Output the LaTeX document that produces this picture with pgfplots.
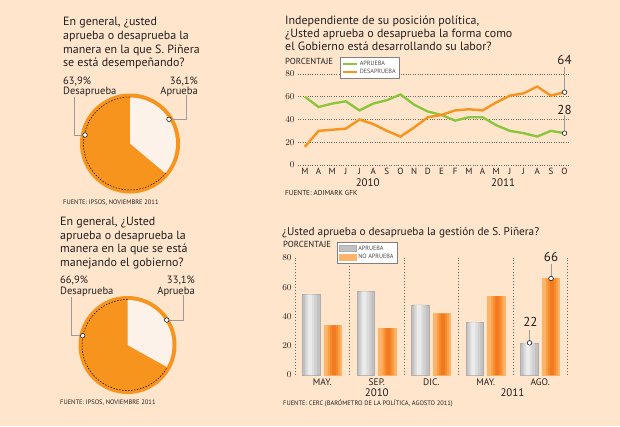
\documentclass[border=0pt]{standalone}
\usepackage{pgfplots}
\usepackage{pgfplotstable}
\pgfplotsset{compat=1.18}
\usepackage{fontspec}
\setmainfont{PT Sans}
\definecolor{bg}{HTML}{FFE5CC}
\definecolor{org}{HTML}{F7941D}
\definecolor{grn}{HTML}{8CC63F}
\definecolor{txt}{HTML}{231F20}
\definecolor{lead}{HTML}{9A9A9A}
\definecolor{slice}{HTML}{FDF2EA}
\definecolor{or1}{HTML}{FCB46A}
\definecolor{or2}{HTML}{F9A045}
\definecolor{or3}{HTML}{F68B2E}
\definecolor{or4}{HTML}{F37A20}
\definecolor{gy1}{HTML}{C2C2C2}
\definecolor{gy2}{HTML}{D0D0D0}
\definecolor{gy3}{HTML}{DDDDDD}
\definecolor{gy4}{HTML}{EBEBEB}
\newcommand\tl[4]{\node[anchor=base west, inner sep=0, font=\fontsize{#1}{#1}\selectfont] at (#2,-#3) {#4};}
\newcommand\tr[4]{\node[anchor=base east, inner sep=0, font=\fontsize{#1}{#1}\selectfont] at (#2,-#3) {#4};}
\pgfplotstableread{
x y
0 55
1 57
2 48
3 36
4 22
}\aprueba
\pgfplotstableread{
x y
0 34
1 32
2 42
3 54
4 66
}\noaprueba
\begin{document}
\begin{tikzpicture}[x=1bp,y=1bp]
\fill[bg] (0,0) rectangle (620,-426);
\begin{scope}[color=txt]
% ---------- pie 1 texts
\tl{12}{63}{25}{En general, ¿usted}
\tl{12}{63}{39}{aprueba o desaprueba la}
\tl{12}{63}{53}{manera en la que S. Piñera}
\tl{12}{63}{66.5}{se está desempeñando?}
\tl{10.6}{63}{84}{63,9\%}
\tl{10.6}{63}{94}{Desaprueba}
\tr{10.6}{198}{84}{36,1\%}
\tr{10.6}{198}{94}{Aprueba}
\tl{6.5}{63}{204}{FUENTE: IPSOS, NOVIEMBRE 2011}
% ---------- pie 2 texts
\tl{12}{60}{225.7}{En general, ¿Usted}
\tl{12}{60}{239.3}{aprueba o desaprueba la}
\tl{12}{60}{252.7}{manera en la que se está}
\tl{12}{60}{266}{manejando el gobierno?}
\tl{10.6}{60}{283.5}{66,9\%}
\tl{10.6}{60}{294}{Desaprueba}
\tr{10.6}{195}{283.5}{33,1\%}
\tr{10.6}{195}{294}{Aprueba}
\tl{6.5}{60}{404.5}{FUENTE: IPSOS, NOVIEMBRE 2011}
% ---------- line chart texts
\tl{12}{285}{24}{Independiente de su posición política,}
\tl{12}{285}{37.5}{¿Usted aprueba o desaprueba la forma como}
\tl{12}{285}{50.5}{el Gobierno está desarrollando su labor?}
\tl{8.8}{285}{64.5}{PORCENTAJE}
\tl{7.2}{285}{195.5}{FUENTE: ADIMARK GFK}
% ---------- bar chart texts
\tl{11.3}{282}{235.5}{¿Usted aprueba o desaprueba la gestión de S. Piñera?}
\tl{8.8}{283}{247.5}{PORCENTAJE}
\tl{6.5}{283}{405.5}{FUENTE: CERC (BARÓMETRO DE LA POLÍTICA, AGOSTO 2011)}
\end{scope}

% ---------- pie 1
\begin{axis}[at={(130bp,-143.5bp)}, anchor=center, x=1bp, y=1bp, scale only axis,
  xmin=-60, xmax=60, ymin=-60, ymax=60, hide axis, clip=false]
\pgfmathsetmacro\apr{36.1}
\pgfmathsetmacro\ang{90-3.6*\apr}
\fill[org] (axis cs:0,0) circle[radius=50bp];
\fill[slice] (axis cs:0,0) -- ++(90:46bp) arc[start angle=90, end angle=\ang, radius=46bp] -- cycle;
\draw[black, line width=0.5pt, dash pattern=on 1.5pt off 1.5pt] (axis cs:0,0) ++(90:46.5bp) arc[start angle=90, end angle=360+\ang, radius=46.5bp];
\draw[lead, line width=1pt] (axis cs:39,24.2) -- (axis cs:56,24.2) -- (axis cs:56,48.5);
\draw[lead, line width=1pt] (axis cs:-45,8.5) -- (axis cs:-56,8.5) -- (axis cs:-56,46.5);
\addplot[only marks, mark=*, mark size=2.3pt, mark options={fill=white, draw=txt, line width=0.6pt}] coordinates {(39,24.2) (-45,8.5)};
\end{axis}

% ---------- pie 2
\begin{axis}[at={(127.5bp,-345bp)}, anchor=center, x=1bp, y=1bp, scale only axis,
  xmin=-60, xmax=60, ymin=-60, ymax=60, hide axis, clip=false]
\pgfmathsetmacro\apr{33.1}
\pgfmathsetmacro\ang{90-3.6*\apr}
\fill[org] (axis cs:0,0) circle[radius=49bp];
\fill[slice] (axis cs:0,0) -- ++(90:45bp) arc[start angle=90, end angle=\ang, radius=45bp] -- cycle;
\draw[black, line width=0.5pt, dash pattern=on 1.5pt off 1.5pt] (axis cs:0,0) ++(90:45.5bp) arc[start angle=90, end angle=360+\ang, radius=45.5bp];
\draw[lead, line width=1pt] (axis cs:39.2,25) -- (axis cs:55.5,25) -- (axis cs:55.5,50);
\draw[lead, line width=1pt] (axis cs:-44.8,9.3) -- (axis cs:-55.8,9.3) -- (axis cs:-55.8,48.3);
\addplot[only marks, mark=*, mark size=2.3pt, mark options={fill=white, draw=txt, line width=0.6pt}] coordinates {(39.2,25) (-44.8,9.3)};
\end{axis}

% ---------- line chart
\begin{axis}[at={(298bp,-165bp)}, anchor=south west, scale only axis, width=272bp, height=91bp,
  xmin=-0.5, xmax=19.4, ymin=0, ymax=80, ytick={0,20,40,60,80},
  xtick={0,...,19}, xticklabels={M,A,M,J,J,A,S,O,N,D,E,F,M,A,M,J,J,A,S,O},
  axis line style={draw=none}, major tick length=0pt,
  ymajorgrids, grid style={dotted, black!60, line width=0.7pt},
  tick label style={font=\fontsize{9}{9}\selectfont, text=txt},
  clip=false,
  legend style={at={(0.154,1.187)}, anchor=north west, draw=black!50, fill=white,
    font=\fontsize{6.2}{7}\selectfont, text=black!70, inner sep=1.5pt, row sep=-1.5pt},
  legend cell align=left,
  legend image code/.code={\draw[#1, line width=2.2pt] (0bp,0bp) -- (14bp,0bp);}]
\addplot[grn, line width=2.4pt] coordinates {(0,60) (1,51) (2,54) (3,56) (4,48) (5,54) (6,57) (7,62) (8,53) (9,47) (10,44) (11,39) (12,42) (13,42) (14,35) (15,30) (16,28) (17,25) (18,30) (19,28)};
\addlegendentry{APRUEBA}
\addplot[org, line width=2.4pt] coordinates {(0,16) (1,30) (2,31) (3,32) (4,40) (5,36) (6,30) (7,25) (8,33) (9,42) (10,44) (11,48) (12,49) (13,48) (14,55) (15,61) (16,63) (17,69) (18,61) (19,64)};
\addlegendentry{DESAPRUEBA}
\draw[lead, line width=1pt] (axis cs:19,64) -- (axis cs:19,86);
\draw[lead, line width=1pt] (axis cs:19,28) -- (axis cs:19,44);
\addplot[forget plot, only marks, mark=*, mark size=2.3pt, mark options={fill=white, draw=txt, line width=0.6pt}] coordinates {(19,64) (19,28)};
\node[font=\fontsize{13}{13}\selectfont, text=txt] at (axis cs:19,92) {64};
\node[font=\fontsize{13}{13}\selectfont, text=txt] at (axis cs:19,48.5) {28};
\node[font=\fontsize{11}{11}\selectfont, text=txt] at (axis cs:4.6,-15.8) {2010};
\node[font=\fontsize{11}{11}\selectfont, text=txt] at (axis cs:14.5,-15.8) {2011};
\end{axis}

% ---------- bar chart
\begin{axis}[at={(295bp,-375bp)}, anchor=south west, scale only axis, width=272.5bp, height=117bp,
  xmin=-0.5, xmax=4.5, ymin=0, ymax=80, ytick={0,20,40,60,80},
  xtick={0,...,4}, xticklabels={MAY.,SEP.,DIC.,MAY.,AGO.},
  minor xtick={-0.5,0.5,1.5,2.5,3.5,4.5}, xminorgrids,
  minor grid style={black!60, line width=0.5pt, dash pattern=on 1.5pt off 1.5pt},
  axis line style={draw=none}, major tick length=0pt, minor tick length=0pt,
  tick label style={font=\fontsize{9.5}{9.5}\selectfont, text=txt},
  ybar, bar width=17.5bp,
  clip=false,
  legend style={at={(0.154,1.137)}, anchor=north west, draw=black!50, fill=white,
    font=\fontsize{6.2}{7}\selectfont, text=black!70, inner sep=1.5pt, row sep=-1.5pt},
  legend cell align=left, area legend]
\addplot[bar shift=-10.75bp, bar width=17.5bp, fill=gy1, draw=black!32, line width=0.6pt] table {\aprueba};
\addlegendentry{APRUEBA}
\addplot[forget plot, bar shift=-11.5bp, bar width=12bp, fill=gy2, draw=none] table {\aprueba};
\addplot[forget plot, bar shift=-12bp, bar width=8bp, fill=gy3, draw=none] table {\aprueba};
\addplot[forget plot, bar shift=-12.5bp, bar width=4bp, fill=gy4, draw=none] table {\aprueba};
\addplot[bar shift=10.75bp, bar width=17.5bp, fill=or1, draw=or1, line width=0.6pt] table {\noaprueba};
\addlegendentry{NO APRUEBA}
\addplot[forget plot, bar shift=11.5bp, bar width=12bp, fill=or2, draw=none] table {\noaprueba};
\addplot[forget plot, bar shift=11.5bp, bar width=8bp, fill=or3, draw=none] table {\noaprueba};
\addplot[forget plot, bar shift=11.5bp, bar width=4bp, fill=or4, draw=none] table {\noaprueba};
\draw[lead, line width=1pt] (axis cs:3.803,22) -- (axis cs:3.803,31);
\draw[lead, line width=1pt] (axis cs:4.197,66) -- (axis cs:4.197,76);
\addplot[forget plot, only marks, mark=*, mark size=2.3pt, mark options={fill=white, draw=txt, line width=0.6pt}] coordinates {(3.803,22) (4.197,66)};
\node[font=\fontsize{13}{13}\selectfont, text=txt] at (axis cs:3.82,36.2) {22};
\node[font=\fontsize{13}{13}\selectfont, text=txt] at (axis cs:4.197,80.7) {66};
\node[font=\fontsize{11}{11}\selectfont, text=txt] at (axis cs:1,-12.3) {2010};
\node[font=\fontsize{11}{11}\selectfont, text=txt] at (axis cs:3.49,-12.3) {2011};
\end{axis}
\end{tikzpicture}
\end{document}
